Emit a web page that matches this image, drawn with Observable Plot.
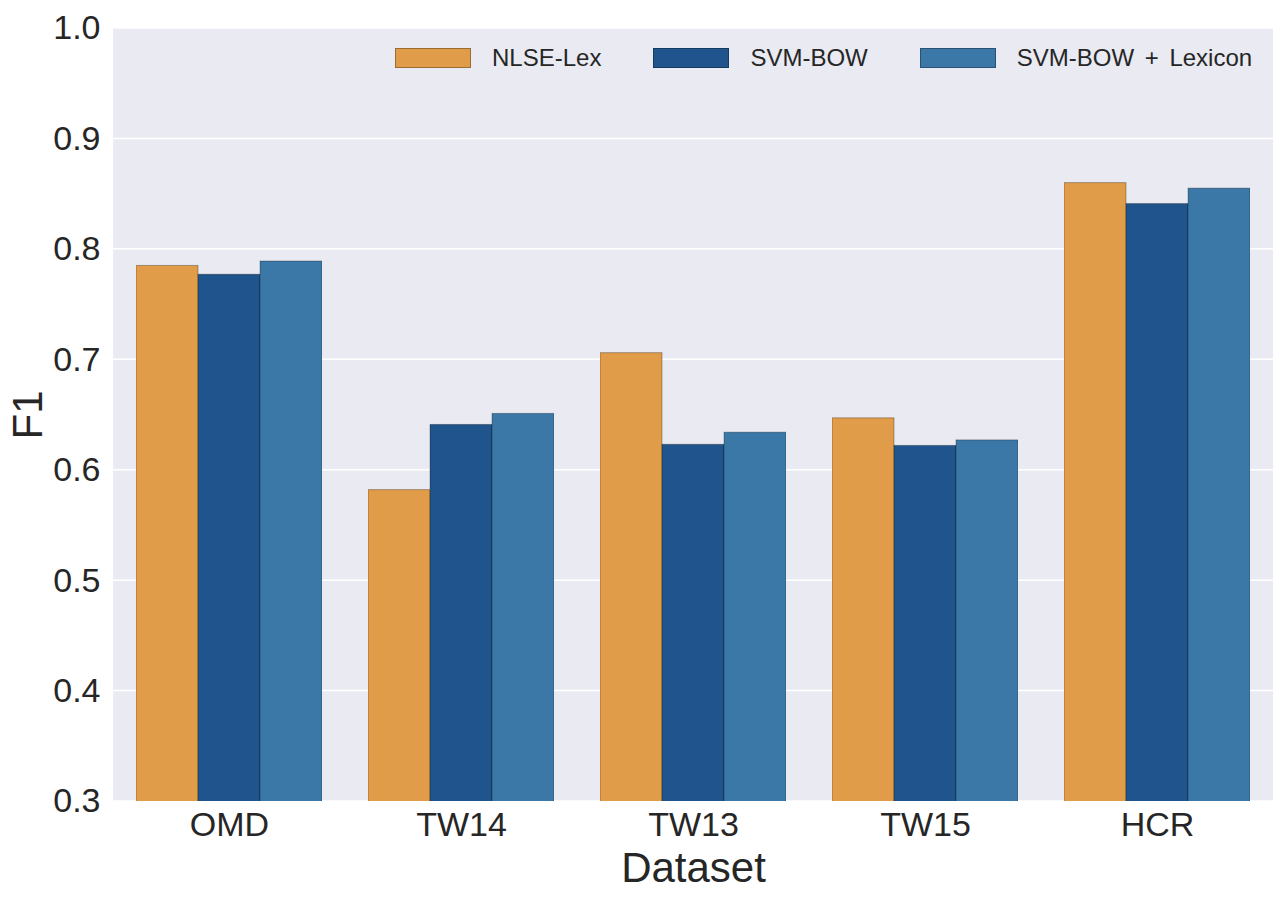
<!DOCTYPE html>
<html><head><meta charset="utf-8">
<script src="https://cdn.jsdelivr.net/npm/d3@7"></script>
<script src="https://cdn.jsdelivr.net/npm/@observablehq/plot@0.6"></script>
<style>
body{margin:0;background:#fff;font-family:"Liberation Sans",Arial,sans-serif;}
#wrap{position:relative;width:1285px;height:899px;overflow:hidden;}
#wrap svg{position:absolute;left:0;top:0;}
g[aria-label="fx-axis label"] text, g[aria-label="y-axis label"] text{font-size:42px;}
#legend{position:absolute;left:395px;top:48px;display:flex;align-items:center;font-size:24px;color:#262626;white-space:nowrap;word-spacing:4px;}
#legend .sw{flex:none;width:74px;height:18px;border:1px solid rgba(0,0,0,0.3);margin-right:21px;}
#legend .lb{flex:none;margin-right:52px;line-height:20px;}
</style></head><body><div id="wrap"><div id="legend"></div></div>
<script>
const datasets = ["OMD", "TW14", "TW13", "TW15", "HCR"];
const seriesNames = ["NLSE-Lex", "SVM-BOW", "SVM-BOW + Lexicon"];
const nlseLex   = [0.785, 0.582, 0.706, 0.647, 0.860];
const svmBow    = [0.777, 0.641, 0.623, 0.622, 0.841];
const svmBowLex = [0.789, 0.651, 0.634, 0.627, 0.855];
const seriesColors = ["#E09C48", "#1F558C", "#3B78A8"];
const yTicks = [0.3, 0.4, 0.5, 0.6, 0.7, 0.8, 0.9, 1.0];

const seriesValues = [nlseLex, svmBow, svmBowLex];
const rows = datasets.flatMap((d, i) => seriesNames.map((s, j) => ({dataset: d, series: s, value: seriesValues[j][i]})));

const W = 1285, H = 899, mL = 113, mR = 12, mT = 28, mB = 98;
const chart = Plot.plot({
  width: W, height: H,
  marginLeft: mL, marginRight: mR, marginTop: mT, marginBottom: mB,
  style: {fontFamily: '"Liberation Sans", Arial, sans-serif', fontSize: "34px", color: "#262626", background: "transparent"},
  fx: {domain: datasets, paddingInner: 0.2, paddingOuter: 0.1, label: "Dataset", labelArrow: "none", tickSize: 0, tickPadding: 10, labelAnchor: "center", labelOffset: 80},
  x: {domain: seriesNames, padding: 0, axis: null},
  y: {domain: [0.3, 1.0], ticks: yTicks, tickFormat: ".1f", tickSize: 0, tickPadding: 36, label: "F1", labelArrow: "none", labelAnchor: "center", labelOffset: 124},
  color: {domain: seriesNames, range: seriesColors},
  marks: [
    Plot.barY(rows, {fx: "dataset", x: "series", y: "value", fill: "series", stroke: "#000", strokeOpacity: 0.3, strokeWidth: 1, clip: true})
  ]
});

// background panel and full-width white grid lines (behind bars)
const yScale = chart.scale("y");
const ns = "http://www.w3.org/2000/svg";
const bg = document.createElementNS(ns, "g");
const rect = document.createElementNS(ns, "rect");
rect.setAttribute("x", mL); rect.setAttribute("y", mT);
rect.setAttribute("width", W - mL - mR); rect.setAttribute("height", H - mT - mB);
rect.setAttribute("fill", "#EAEAF2");
bg.appendChild(rect);
for (const t of yTicks) {
  const yy = yScale.apply(t);
  const ln = document.createElementNS(ns, "line");
  ln.setAttribute("x1", mL); ln.setAttribute("x2", W - mR);
  ln.setAttribute("y1", yy); ln.setAttribute("y2", yy);
  ln.setAttribute("stroke", "#fff"); ln.setAttribute("stroke-width", 1.5);
  bg.appendChild(ln);
}
const styleEl = chart.querySelector("style");
chart.insertBefore(bg, styleEl ? styleEl.nextSibling : chart.firstChild);

document.getElementById("wrap").insertBefore(chart, document.getElementById("legend"));

const legend = document.getElementById("legend");
seriesNames.forEach((s, i) => {
  const sw = document.createElement("div");
  sw.className = "sw"; sw.style.background = seriesColors[i];
  const lb = document.createElement("div");
  lb.className = "lb"; lb.textContent = s;
  legend.appendChild(sw); legend.appendChild(lb);
});
</script></body></html>
